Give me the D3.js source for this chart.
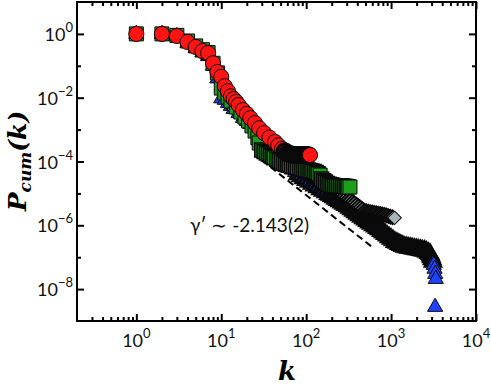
<!DOCTYPE html>
<html>
<head>
<meta charset="utf-8">
<script src="https://cdn.jsdelivr.net/npm/d3@7"></script>
<style>
    body { margin: 0; background: #fff; }
    svg { display: block; }
    .axis path { display: none; }
    .axis line { stroke: #000; stroke-width: 2; }
    .tick-label { font-family: Lato, "Open Sans", sans-serif; font-size: 18px; fill: #111; }
    .title { font-family: "DejaVu Serif", serif; font-weight: bold; font-style: italic; fill: #000; }
</style>
</head>
<body>
<svg id="chart" width="491" height="386"></svg>
<script>
// tick labels (powers of ten)
var xExponents = [0, 1, 2, 3, 4];
var yExponents = [0, -2, -4, -6, -8];
var yMinorExponents = [-1, -3, -5, -7];

// red circles
var redK = [1, 2, 3, 4, 5, 6, 7, 8, 9, 10, 11, 12, 13, 14, 15, 16, 18, 20, 22, 25, 28, 32, 37, 43, 47, 52,
    56, 60, 64, 68, 72, 76, 80, 85, 90, 95, 100, 105, 111];
var redP = [1, 1, 0.86, 0.56, 0.39, 0.29, 0.25, 0.12, 0.064, 0.045, 0.023, 0.016, 0.011, 0.0091, 0.0074,
    0.0059, 0.0041, 0.0031, 0.0023, 0.0016, 0.0011, 7.8e-4, 5.6e-4, 4.1e-4, 3.2e-4, 2.5e-4,
    2.1e-4, 1.8e-4, 1.7e-4, 1.65e-4, 1.6e-4, 1.6e-4, 1.6e-4, 1.6e-4, 1.6e-4, 1.6e-4, 1.6e-4, 1.6e-4, 1.6e-4];

// green squares
var greenK = [1, 2, 3, 4, 5, 6, 7, 8, 9, 10, 11, 12, 13, 15, 17, 19, 21, 23, 25, 27, 28,
    30, 32, 34, 36, 38, 40, 42, 45, 48, 51, 54, 57, 60, 63, 67, 71, 75, 79, 84, 89, 94, 99, 105, 111,
    117, 124, 131, 138, 146,
    152, 160, 168, 177, 186, 196, 206, 217, 228, 240, 253, 266, 280, 295, 310, 328];
var greenP = [1, 1, 0.9, 0.6, 0.42, 0.32, 0.26, 0.12, 0.06, 0.02, 0.014, 0.0105, 0.0079, 0.0051, 0.00356,
    0.00248, 0.00186, 0.0013, 9.0e-4, 5.5e-4, 3.8e-4,
    2.30e-4, 2.06e-4, 1.86e-4, 1.71e-4, 1.56e-4, 1.43e-4, 1.32e-4, 1.17e-4, 1.06e-4, 9.6e-5, 8.8e-5,
    8.3e-5, 7.9e-5, 7.7e-5, 7.3e-5, 7.0e-5, 6.8e-5, 6.5e-5, 6.3e-5, 6.0e-5, 5.8e-5, 5.6e-5, 5.4e-5,
    5.2e-5, 5.0e-5, 4.8e-5, 4.5e-5, 4.1e-5, 3.75e-5,
    2.83e-5, 2.47e-5, 2.26e-5, 2.04e-5, 1.93e-5, 1.85e-5, 1.78e-5, 1.72e-5, 1.71e-5, 1.71e-5, 1.71e-5,
    1.71e-5, 1.67e-5, 1.65e-5, 1.62e-5, 1.59e-5];

// gray diamonds
var grayK = [1, 2, 3, 4, 5, 6, 7, 8, 9, 10, 12, 14, 17, 20, 24, 28, 33, 39, 46, 54, 63, 73,
    85, 90, 95, 100, 106, 112, 118, 125, 132, 139, 147, 155, 164, 173, 183, 193, 204, 215, 227, 240,
    253, 267, 282, 298, 315, 332, 351, 370, 391, 413, 436, 460, 486, 513, 542, 572, 604, 638, 673, 711,
    751, 793, 837, 884, 933, 985, 1040, 1100];
var grayP = [1, 1, 0.85, 0.55, 0.38, 0.28, 0.22, 0.11, 0.05, 0.018, 0.0068, 0.0044, 0.00267, 0.00173,
    9.7e-4, 5.5e-4, 3.3e-4, 1.99e-4, 1.49e-4, 1.11e-4, 8.4e-5, 6.7e-5,
    5.37e-5, 4.93e-5, 4.55e-5, 4.24e-5, 3.88e-5, 3.59e-5, 3.31e-5, 3.06e-5, 2.81e-5, 2.61e-5,
    2.41e-5, 2.21e-5, 2.03e-5, 1.86e-5, 1.69e-5, 1.56e-5, 1.42e-5, 1.32e-5, 1.20e-5, 1.08e-5,
    9.86e-6, 8.97e-6, 8.11e-6, 7.33e-6, 6.67e-6, 6.08e-6, 5.45e-6, 4.97e-6, 4.46e-6, 4.00e-6,
    3.59e-6, 3.22e-6, 2.89e-6, 2.75e-6, 2.67e-6, 2.59e-6, 2.52e-6, 2.45e-6, 2.38e-6, 2.31e-6,
    2.25e-6, 2.18e-6, 2.12e-6, 2.03e-6, 1.94e-6, 1.86e-6, 1.78e-6, 1.71e-6];

// blue triangles
var blueK = [1, 2, 3, 4, 5, 6, 7, 8, 9, 10,
    11, 12, 13, 14, 16, 18, 20, 22, 24, 26, 28, 30, 33, 36, 39, 42, 46, 50, 54, 58,
    63, 68, 74, 80, 86, 93, 100, 108, 117, 126, 136, 147, 158, 170, 183,
    190, 200, 211, 223, 235, 248, 262, 276, 291, 307, 324, 342, 361, 381, 402, 424, 447, 472, 498, 525,
    554, 584, 616, 650, 686, 724, 764, 806, 850, 897, 946, 998, 1053, 1111, 1172, 1236, 1304, 1376,
    1451, 1531, 1615, 1704, 1798, 1897, 2001, 2111, 2227, 2350, 2479, 2615, 2759, 2877,
    2920, 2980, 3040, 3110, 3180, 3250, 3310, 3360, 3300];
var blueP = [1, 1, 0.85, 0.52, 0.36, 0.26, 0.2, 0.1, 0.04, 0.0095,
    8.5e-3, 6.8e-3, 5.5e-3, 4.4e-3, 3.3e-3, 2.3e-3, 1.86e-3, 1.5e-3, 1.12e-3, 8.4e-4,
    6.3e-4, 4.7e-4, 3.3e-4, 2.46e-4, 1.79e-4, 1.54e-4, 1.28e-4, 1.07e-4, 9.1e-5, 7.8e-5,
    6.53e-5, 5.57e-5, 4.65e-5, 3.94e-5, 3.41e-5, 2.97e-5, 2.63e-5, 2.29e-5, 2.00e-5, 1.76e-5,
    1.54e-5, 1.35e-5, 1.20e-5, 1.07e-5, 9.5e-6,
    8.97e-6, 8.17e-6, 7.49e-6, 6.77e-6, 6.21e-6, 5.65e-6, 5.15e-6, 4.72e-6, 4.30e-6, 3.91e-6,
    3.51e-6, 3.15e-6, 2.81e-6, 2.54e-6, 2.28e-6, 2.06e-6, 1.85e-6, 1.66e-6, 1.50e-6, 1.36e-6,
    1.22e-6, 1.11e-6, 1.00e-6, 9.1e-7, 8.2e-7, 7.4e-7, 6.6e-7, 5.94e-7, 5.30e-7, 4.72e-7,
    4.21e-7, 3.78e-7, 3.37e-7, 2.99e-7, 2.79e-7, 2.59e-7, 2.41e-7, 2.24e-7, 2.10e-7, 2.03e-7,
    1.97e-7, 1.93e-7, 1.87e-7, 1.82e-7, 1.77e-7, 1.72e-7, 1.67e-7, 1.62e-7, 1.58e-7, 1.47e-7,
    1.35e-7, 1.26e-7,
    1.13e-7, 9.8e-8, 8.5e-8, 7.1e-8, 5.7e-8, 4.3e-8, 2.97e-8, 2.07e-8, 2.75e-9];

// power-law guide line
var fitK = [30, 610];
var fitP = [1.1e-4, 2.0e-7];
var fitLabel = "\u03b3\u2032 \u223c -2.143(2)";

var svg = d3.select("#chart");
var x = d3.scaleLog().domain([0.2, 1e4]).range([77, 476]);
var y = d3.scaleLog().domain([1e-9, 10]).range([321, 2]);

function zip(ks, ps) {
    return ks.map(function(k, i) { return { k: k, p: ps[i] }; });
}

// minor ticks 2..9 inside each decade
var xMinor = [];
[0.1, 1, 10, 100, 1000].forEach(function(d) {
    for (var m = 2; m <= 9; m++) {
        var v = d * m;
        if (v > 0.2 && v < 1e4) xMinor.push(v);
    }
});
var xMajor = xExponents.map(function(e) { return Math.pow(10, e); });
var yMajor = yExponents.map(function(e) { return Math.pow(10, e); });
var yMinor = yMinorExponents.map(function(e) { return Math.pow(10, e); });

function addAxis(axis, tx, ty) {
    svg.append("g").attr("class", "axis")
        .attr("transform", "translate(" + tx + "," + ty + ")")
        .call(axis);
}
addAxis(d3.axisBottom(x).tickValues(xMajor).tickSize(-7).tickFormat(""), 0, 321);
addAxis(d3.axisBottom(x).tickValues(xMinor).tickSize(-4).tickFormat(""), 0, 321);
addAxis(d3.axisTop(x).tickValues(xMajor).tickSize(-7).tickFormat(""), 0, 2);
addAxis(d3.axisTop(x).tickValues(xMinor).tickSize(-4).tickFormat(""), 0, 2);
addAxis(d3.axisLeft(y).tickValues(yMajor).tickSize(-7).tickFormat(""), 77, 0);
addAxis(d3.axisLeft(y).tickValues(yMinor).tickSize(-4).tickFormat(""), 77, 0);
addAxis(d3.axisRight(y).tickValues(yMajor).tickSize(-7).tickFormat(""), 476, 0);
addAxis(d3.axisRight(y).tickValues(yMinor).tickSize(-4).tickFormat(""), 476, 0);

// tick labels with superscript exponents
var xLab = svg.selectAll(".xlab").data(xExponents).enter().append("text")
    .attr("class", "tick-label")
    .attr("text-anchor", "middle")
    .attr("x", function(d) { return x(Math.pow(10, d)); })
    .attr("y", 347);
xLab.append("tspan").text("10");
xLab.append("tspan").attr("dy", -9).style("font-size", "13px").text(function(d) { return d; });

var yLab = svg.selectAll(".ylab").data(yExponents).enter().append("text")
    .attr("class", "tick-label")
    .attr("text-anchor", "end")
    .attr("x", 73)
    .attr("y", function(d) { return y(Math.pow(10, d)) + 7; });
yLab.append("tspan").text("10");
yLab.append("tspan").attr("dy", -9).style("font-size", "13px")
    .text(function(d) { return d < 0 ? "\u2212" + (-d) : d; });

// series, back to front; dense = outline width where markers pile up
var series = [
    { data: zip(blueK, blueP), type: d3.symbolTriangle, size: 100, rot: 0, fill: "#1f42ff", dense: 3 },
    { data: zip(grayK, grayP), type: d3.symbolSquare, size: 92, rot: 45, fill: "#a6b3b8", dense: 2 },
    { data: zip(greenK, greenP), type: d3.symbolSquare, size: 196, rot: 0, fill: "#1e9c1e", dense: 1.6 },
    { data: zip(redK, redP), type: d3.symbolCircle, size: 180, rot: 0, fill: "#ff1414", dense: 3 }
];

series.forEach(function(s) {
    s.data.forEach(function(d, i) {
        var n = s.data[i + 1];
        var gap = n ? Math.hypot(x(n.k) - x(d.k), y(n.p) - y(d.p)) : 99;
        d.sw = gap < 3.5 ? s.dense : 1;
    });
    svg.append("g")
        .selectAll("path")
        .data(s.data)
        .enter()
        .append("path")
        .attr("d", d3.symbol().type(s.type).size(s.size))
        .attr("transform", function(d) {
            return "translate(" + x(d.k) + "," + y(d.p) + ") rotate(" + s.rot + ")";
        })
        .style("fill", s.fill)
        .style("stroke", "#0a0a0a")
        .style("stroke-width", function(d) { return d.sw; });
});

// dashed guide
svg.append("path")
    .datum(zip(fitK, fitP))
    .attr("d", d3.line().x(function(d) { return x(d.k); }).y(function(d) { return y(d.p); }))
    .style("stroke", "#000")
    .style("stroke-width", 2)
    .style("stroke-dasharray", "7,4")
    .style("fill", "none");

svg.append("text")
    .attr("class", "tick-label")
    .attr("x", 190)
    .attr("y", 232)
    .style("font-size", "19px")
    .text(fitLabel);

// frame
svg.append("rect")
    .attr("x", 77).attr("y", 2)
    .attr("width", 399).attr("height", 319)
    .style("fill", "none").style("stroke", "#000").style("stroke-width", 2);

// axis titles
svg.append("text")
    .attr("class", "title")
    .attr("x", 287).attr("y", 380)
    .attr("text-anchor", "middle")
    .style("font-size", "26px")
    .text("k");

var yTitle = svg.append("text")
    .attr("class", "title")
    .attr("text-anchor", "middle")
    .attr("transform", "translate(26,161) rotate(-90)")
    .style("font-size", "25px");
yTitle.append("tspan").text("P");
yTitle.append("tspan").attr("dy", 5).style("font-size", "17px").text("cum");
yTitle.append("tspan").attr("dy", -5).text("(k)");
</script>
</body>
</html>
